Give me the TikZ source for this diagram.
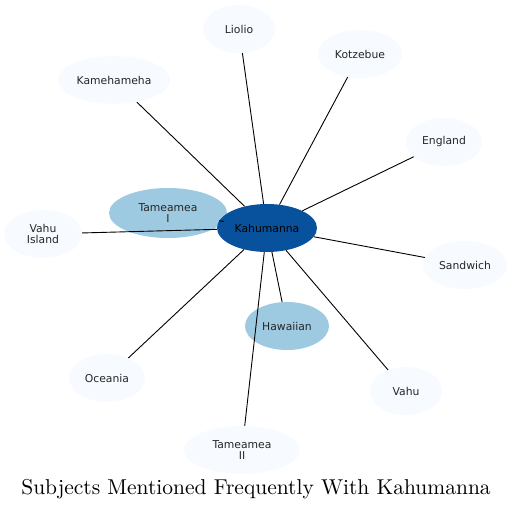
\documentclass[tikz,border=0pt]{standalone}
\usepackage{fontspec}
\newfontfamily\dejavu{DejaVu Sans}
\newfontfamily\titlefont{lmroman10-regular}[Extension=.otf]
\usetikzlibrary{shapes.geometric}
\definecolor{hub}{HTML}{08519C}
\definecolor{mid}{HTML}{9ECAE1}
\definecolor{pale}{HTML}{F7FBFF}
\tikzset{
  bub/.style={ellipse, inner sep=0pt, fill=pale, font=\dejavu\fontsize{10.8}{11.5}\selectfont, align=center, text=black!85},
  midbub/.style={bub, fill=mid},
  hubbub/.style={bub, fill=hub, text=black},
  link/.style={draw=black, line width=0.9pt}
}
\begin{document}
\begin{tikzpicture}[x=1pt,y=-1pt]
\useasboundingbox (0,0) rectangle (514,511);
\node[midbub, minimum width=118pt, minimum height=50pt] (t1) at (168,213) {Tameamea\\I};
\node[hubbub, minimum width=100pt, minimum height=48pt] (k) at (267,228) {Kahumanna};
\node[midbub, minimum width=84pt, minimum height=48pt] (haw) at (287,326) {Hawaiian};
\node[bub, minimum width=72pt, minimum height=48pt] (lio) at (239,29) {Liolio};
\node[bub, minimum width=84pt, minimum height=48pt] (kot) at (360,54) {Kotzebue};
\node[bub, minimum width=112pt, minimum height=48pt] (kam) at (114,80) {Kamehameha};
\node[bub, minimum width=76pt, minimum height=48pt] (eng) at (444,142) {England};
\node[bub, minimum width=78pt, minimum height=48pt] (vi) at (43,234) {Vahu\\Island};
\node[bub, minimum width=84pt, minimum height=48pt] (san) at (465,265) {Sandwich};
\node[bub, minimum width=76pt, minimum height=48pt] (oce) at (107,378) {Oceania};
\node[bub, minimum width=72pt, minimum height=48pt] (vahu) at (406,391) {Vahu};
\node[bub, minimum width=116pt, minimum height=48pt] (t2) at (242,450) {Tameamea\\II};
\foreach \n in {t1,haw,lio,kot,kam,eng,vi,san,oce,vahu,t2}
  \draw[link] (k) -- (\n);
\node[font=\titlefont\fontsize{21.5}{24}\selectfont] (title) at (256,489) {Subjects Mentioned Frequently With Kahumanna};
\end{tikzpicture}
\end{document}
